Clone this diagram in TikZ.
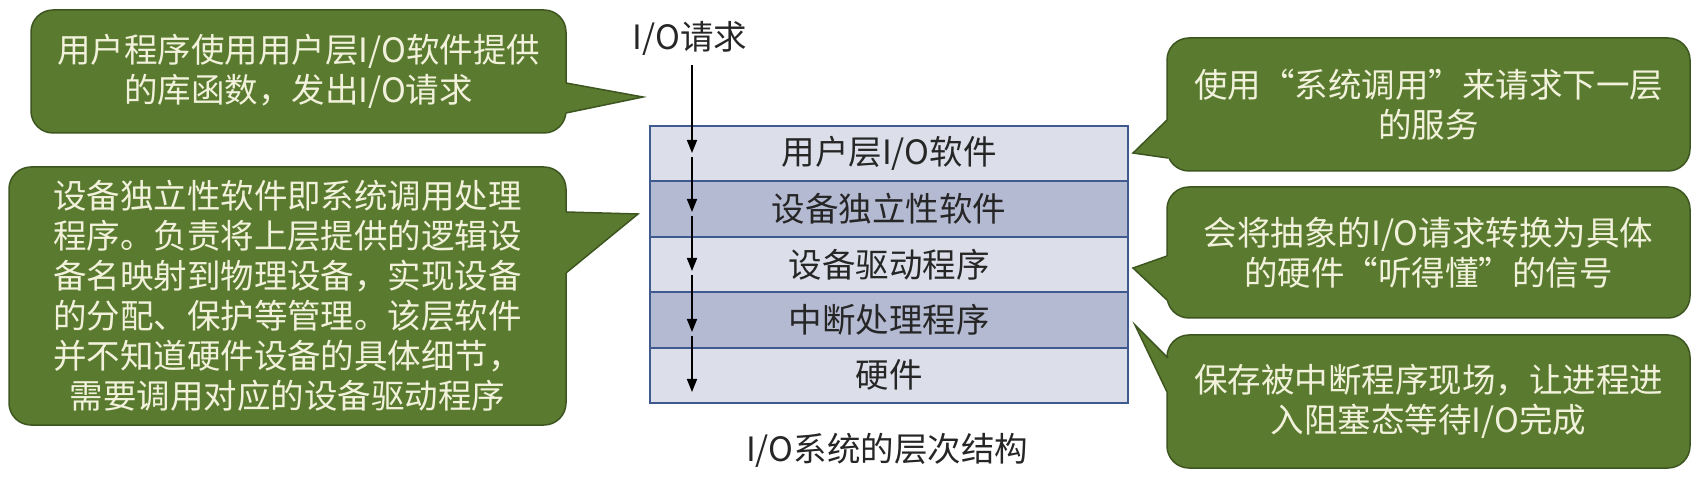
\documentclass[tikz,border=0pt]{standalone}
\usepackage{fontspec}
\setmainfont{Noto Sans CJK SC}
\usetikzlibrary{arrows.meta}
\definecolor{bubfill}{HTML}{5A7B2F}
\definecolor{bubline}{HTML}{3D5620}
\definecolor{bubtext}{HTML}{F2F2DC}
\definecolor{rowlight}{HTML}{DCDFEA}
\definecolor{rowdark}{HTML}{B4BAD2}
\definecolor{rowline}{HTML}{3E5A8E}
\begin{document}
\begin{tikzpicture}[x=1pt,y=-1pt,
  bubble/.style={draw=bubline, fill=bubfill, line width=1.5pt, rounded corners=22pt,
    text=bubtext, align=center, inner sep=0pt, font=\fontsize{33.5}{40}\selectfont},
  tipfill/.style={fill=bubfill},
  tipline/.style={draw=bubline, line width=1.5pt},
  layer/.style={draw=rowline, line width=2pt, minimum width=478pt, minimum height=55.4pt,
    inner sep=0pt, outer sep=0pt, text=black!85, font=\fontsize{33.5}{40}\selectfont},
  flow/.style={line width=1.6pt, -{Triangle[width=10pt,length=13pt]}},
  plain/.style={font=\fontsize{33.5}{40}\selectfont, text=black!85, inner sep=0pt}
]
\useasboundingbox (0,0) rectangle (1701,486);

% ---- bubbles ----
\node[bubble, minimum width=535pt, minimum height=123pt] (b1) at (298.5,71.5)
  {用户程序使用用户层I/O软件提供\\的库函数，发出I/O请求};
\fill[tipfill] (566,83) -- (643,97) -- (566,113) -- (560,113) -- (560,83) -- cycle;
\draw[tipline] (566,83) -- (643,97) -- (566,113);

\node[bubble, minimum width=557pt, minimum height=258pt] (b2) at (287.5,296)
  {设备独立性软件即系统调用处理\\程序。负责将上层提供的逻辑设\\备名映射到物理设备，实现设备\\的分配、保护等管理。该层软件\\并不知道硬件设备的具体细节，\\需要调用对应的设备驱动程序};
\fill[tipfill] (566,212) -- (638,214) -- (566,273) -- (560,273) -- (560,212) -- cycle;
\draw[tipline] (566,212) -- (638,214) -- (566,273);

\node[bubble, minimum width=523pt, minimum height=133pt] (b3) at (1428.5,104.5)
  {使用“系统调用”来请求下一层\\的服务};
\fill[tipfill] (1167,120) -- (1133,153) -- (1168,158) -- (1174,158) -- (1173,120) -- cycle;
\draw[tipline] (1167,120) -- (1133,153) -- (1168,158);

\node[bubble, minimum width=523pt, minimum height=131pt] (b4) at (1428.5,252.5)
  {会将抽象的I/O请求转换为具体\\的硬件“听得懂”的信号};
\fill[tipfill] (1167,256) -- (1133,268) -- (1167,300) -- (1173,300) -- (1173,256) -- cycle;
\draw[tipline] (1167,256) -- (1133,268) -- (1167,300);

\node[bubble, minimum width=523pt, minimum height=133pt] (b5) at (1428.5,401.5)
  {保存被中断程序现场，让进程进\\入阻塞态等待I/O完成};
\fill[tipfill] (1168,358) -- (1135,325) -- (1167,392) -- (1173,392) -- (1174,358) -- cycle;
\draw[tipline] (1168,358) -- (1135,325) -- (1167,392);

% ---- layer stack ----
\node[layer, fill=rowlight] (r1) at (889,153.7) {用户层I/O软件};
\node[layer, fill=rowdark]  (r2) at (889,209.1) {设备独立性软件};
\node[layer, fill=rowlight] (r3) at (889,264.5) {设备驱动程序};
\node[layer, fill=rowdark]  (r4) at (889,319.9) {中断处理程序};
\node[layer, fill=rowlight] (r5) at (889,375.3) {硬件};

% ---- request flow ----
\node[plain] (req) at (690,38) {I/O请求};
\coordinate (a0) at (692,65);
\coordinate (t1) at (692,153);
\coordinate (s2) at (692,157);
\coordinate (t2) at (692,212);
\coordinate (s3) at (692,216);
\coordinate (t3) at (692,271);
\coordinate (s4) at (692,275);
\coordinate (t4) at (692,332);
\coordinate (s5) at (692,336);
\coordinate (t5) at (692,392);
\draw[flow] (a0) -- (t1);
\draw[flow] (s2) -- (t2);
\draw[flow] (s3) -- (t3);
\draw[flow] (s4) -- (t4);
\draw[flow] (s5) -- (t5);

\node[plain] (cap) at (887,450) {I/O系统的层次结构};
\end{tikzpicture}
\end{document}
